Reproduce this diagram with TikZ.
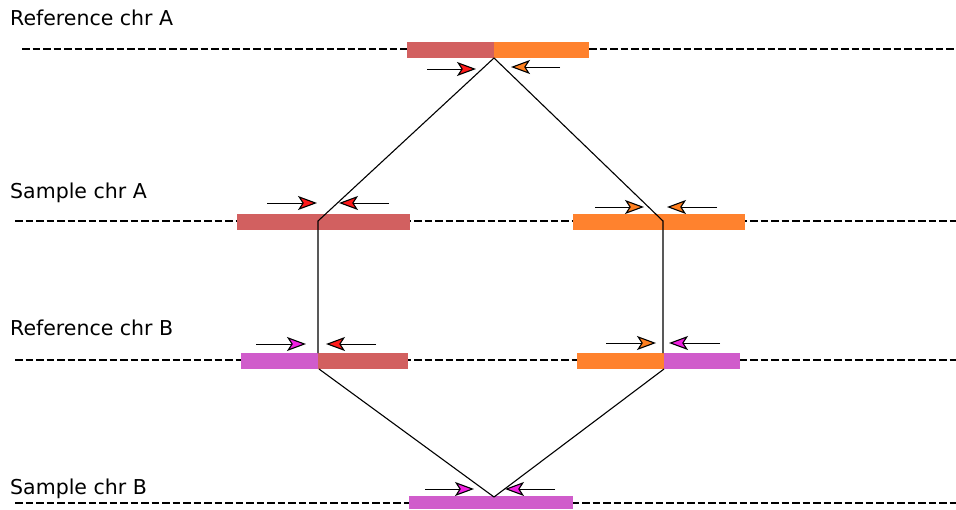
\documentclass[tikz,border=0pt]{standalone}
\usepackage{fontspec}
\setmainfont{DejaVu Sans}
\usetikzlibrary{arrows.meta}
\definecolor{redbar}{HTML}{D26060}
\definecolor{orangebar}{HTML}{FF822E}
\definecolor{magbar}{HTML}{D05CCB}
\definecolor{redtip}{HTML}{FF1A1A}
\definecolor{orangetip}{HTML}{FF8020}
\definecolor{magtip}{HTML}{F020E0}
\tikzset{
  chrline/.style={line width=1.7pt, dash pattern=on 7.5pt off 3pt},
  lbl/.style={anchor=base west, inner sep=0pt, font=\fontsize{20.5}{22}\selectfont},
  link/.style={line width=1.1pt},
  primer/.style={line width=1pt, -{Stealth[length=19pt,width=14pt,inset=4.5pt,fill=#1,line width=1.1pt]}},
}
\begin{document}
\begin{tikzpicture}[x=1pt,y=-1pt]
\useasboundingbox (0,0) rectangle (956,509);
% labels
\node[lbl] (l1) at (10,25) {Reference chr A};
\node[lbl] (l2) at (10,198) {Sample chr A};
\node[lbl] (l3) at (10,335) {Reference chr B};
\node[lbl] (l4) at (10,494) {Sample chr B};
% chromosome lines
\coordinate (c1a) at (22,49);  \coordinate (c1b) at (956,49);
\coordinate (c2a) at (15,221); \coordinate (c2b) at (956,221);
\coordinate (c3a) at (15,360); \coordinate (c3b) at (956,360);
\coordinate (c4a) at (15,503); \coordinate (c4b) at (956,503);
\draw[chrline] (c1a) -- (c1b);
\draw[chrline] (c2a) -- (c2b);
\draw[chrline] (c3a) -- (c3b);
\draw[chrline] (c4a) -- (c4b);
% bars
\fill[redbar] (407,42) rectangle (494,58);
\fill[orangebar] (494,42) rectangle (589,58);
\fill[redbar] (237,214) rectangle (410,230);
\fill[orangebar] (573,214) rectangle (745,230);
\fill[magbar] (241,353) rectangle (318,369);
\fill[redbar] (318,353) rectangle (408,369);
\fill[orangebar] (577,353) rectangle (664,369);
\fill[magbar] (664,353) rectangle (740,369);
\fill[magbar] (409,496) rectangle (573,509);
% connector points
\coordinate (top) at (494,58);
\coordinate (lk1) at (318,221);
\coordinate (lk2) at (318,353);
\coordinate (lk3) at (319,369);
\coordinate (rk1) at (663,221);
\coordinate (rk2) at (663,353);
\coordinate (rk3) at (664,369);
\coordinate (bot) at (494,497);
\draw[link] (top) -- (lk1) -- (lk2);
\draw[link] (top) -- (rk1) -- (rk2);
\draw[link] (lk3) -- (bot);
\draw[link] (rk3) -- (bot);
% primers
\coordinate (p1s) at (427,69); \coordinate (p1e) at (476,69);
\coordinate (p2s) at (560,67); \coordinate (p2e) at (511,67);
\coordinate (p3s) at (267,203); \coordinate (p3e) at (317,203);
\coordinate (p4s) at (389,203); \coordinate (p4e) at (339,203);
\coordinate (p5s) at (595,207); \coordinate (p5e) at (644,207);
\coordinate (p6s) at (717,207); \coordinate (p6e) at (667,207);
\coordinate (p7s) at (256,344); \coordinate (p7e) at (306,344);
\coordinate (p8s) at (376,344); \coordinate (p8e) at (326,344);
\coordinate (p9s) at (606,343); \coordinate (p9e) at (656,343);
\coordinate (p10s) at (720,343); \coordinate (p10e) at (669,343);
\coordinate (p11s) at (425,489); \coordinate (p11e) at (474,489);
\coordinate (p12s) at (555,489); \coordinate (p12e) at (505,489);
\draw[primer=redtip] (p1s) -- (p1e);
\draw[primer=orangetip] (p2s) -- (p2e);
\draw[primer=redtip] (p3s) -- (p3e);
\draw[primer=redtip] (p4s) -- (p4e);
\draw[primer=orangetip] (p5s) -- (p5e);
\draw[primer=orangetip] (p6s) -- (p6e);
\draw[primer=magtip] (p7s) -- (p7e);
\draw[primer=redtip] (p8s) -- (p8e);
\draw[primer=orangetip] (p9s) -- (p9e);
\draw[primer=magtip] (p10s) -- (p10e);
\draw[primer=magtip] (p11s) -- (p11e);
\draw[primer=magtip] (p12s) -- (p12e);
\end{tikzpicture}
\end{document}
